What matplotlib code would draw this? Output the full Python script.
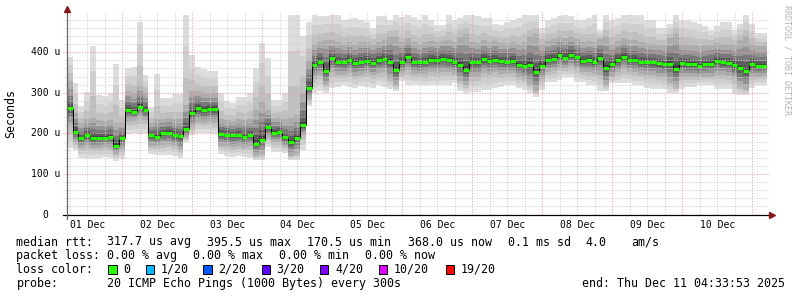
import numpy as np
import matplotlib
matplotlib.use("Agg")
from matplotlib import pyplot as plt
from matplotlib.patches import Rectangle

W, H = 797, 297
MONO = "DejaVu Sans Mono"

# smokeping data, consolidated to 2 hour steps, values in microseconds
start_hour = 4.9  # first step, hours after 01 Dec 00:00
step_hours = 2.0

median = [262, 204, 188, 196, 188, 189, 189, 192, 170, 188,
          258, 253, 266, 258, 196, 192, 200, 202, 196, 193,
          210, 250, 262, 258, 260, 260, 198, 196, 196, 197,
          192, 197, 174, 184, 215, 202, 203, 190, 178, 188,
          221, 313, 368, 376, 354, 385, 377, 375, 381, 373,
          376, 379, 374, 380, 384, 376, 356, 376, 388, 376,
          375, 376, 381, 380, 384, 380, 376, 368, 357, 376,
          375, 383, 378, 382, 378, 377, 378, 368, 365, 368,
          350, 367, 381, 384, 392, 386, 394, 387, 379, 381,
          376, 386, 361, 370, 380, 389, 381, 382, 377, 376,
          375, 373, 370, 372, 359, 373, 371, 370, 366, 370,
          372, 378, 375, 374, 368, 360, 353, 370, 366, 367]

ping_max = [389, 323, 268, 303, 416, 295, 292, 300, 371, 282,
            362, 364, 475, 344, 266, 346, 286, 286, 296, 296,
            492, 393, 364, 358, 354, 354, 300, 280, 275, 290,
            290, 300, 361, 422, 385, 282, 282, 300, 492, 492,
            440, 475, 492, 490, 490, 492, 492, 480, 482, 485,
            480, 475, 460, 490, 488, 480, 492, 486, 492, 486,
            480, 492, 480, 468, 468, 492, 480, 485, 492, 492,
            490, 485, 485, 470, 468, 475, 480, 485, 492, 492,
            492, 460, 480, 485, 490, 492, 490, 480, 480, 485,
            492, 455, 492, 480, 485, 492, 492, 492, 492, 480,
            480, 460, 460, 470, 492, 480, 480, 475, 470, 465,
            455, 465, 475, 475, 455, 470, 492, 470, 447, 447]

ping_min = [164, 158, 140, 138, 138, 140, 142, 140, 132, 138,
            198, 200, 198, 200, 150, 148, 146, 148, 145, 140,
            180, 195, 200, 202, 200, 198, 150, 145, 143, 145,
            143, 140, 134, 134, 167, 155, 155, 152, 134, 134,
            160, 267, 300, 305, 300, 312, 315, 318, 315, 312,
            316, 314, 312, 318, 315, 310, 305, 330, 320, 318,
            319, 318, 318, 318, 318, 320, 325, 305, 300, 303,
            303, 307, 307, 312, 315, 318, 320, 312, 307, 300,
            290, 307, 327, 327, 332, 340, 338, 327, 327, 320,
            319, 305, 305, 323, 323, 323, 323, 319, 319, 312,
            310, 310, 310, 300, 300, 310, 315, 315, 319, 319,
            319, 310, 310, 310, 298, 295, 295, 313, 319, 319]

core_lo = [215, 178, 165, 168, 163, 165, 166, 165, 150, 162,
           228, 230, 235, 232, 170, 168, 172, 174, 168, 160,
           190, 215, 228, 226, 228, 225, 170, 168, 166, 168,
           165, 168, 145, 150, 190, 178, 178, 168, 145, 150,
           195, 285, 335, 345, 320, 350, 345, 345, 348, 342,
           345, 348, 343, 348, 350, 335, 320, 348, 355, 347,
           346, 346, 350, 348, 352, 350, 347, 330, 318, 340,
           340, 348, 345, 350, 347, 347, 348, 340, 335, 320,
           305, 335, 352, 356, 362, 360, 365, 358, 350, 350,
           347, 345, 320, 342, 350, 358, 352, 350, 347, 345,
           343, 340, 338, 325, 315, 340, 340, 340, 338, 340,
           340, 345, 343, 342, 333, 315, 310, 338, 340, 342]

core_hi = [330, 250, 225, 235, 240, 232, 230, 232, 225, 225,
           305, 300, 320, 300, 225, 235, 235, 238, 235, 235,
           270, 305, 305, 300, 300, 300, 235, 232, 230, 235,
           232, 235, 260, 280, 260, 238, 240, 235, 240, 245,
           300, 380, 420, 425, 430, 430, 425, 420, 425, 420,
           425, 425, 420, 425, 430, 440, 440, 425, 435, 425,
           420, 425, 428, 425, 428, 430, 425, 440, 445, 425,
           422, 430, 425, 428, 422, 422, 425, 420, 425, 440,
           445, 420, 428, 432, 440, 435, 440, 432, 425, 428,
           425, 432, 440, 420, 428, 435, 430, 430, 425, 422,
           420, 418, 418, 435, 445, 420, 418, 418, 415, 418,
           418, 422, 420, 420, 418, 430, 440, 420, 415, 415]

day_labels = ["01 Dec", "02 Dec", "03 Dec", "04 Dec", "05 Dec",
              "06 Dec", "07 Dec", "08 Dec", "09 Dec", "10 Dec"]
ytick_values = [0, 100, 200, 300, 400]
ytick_labels = ["0", "100 u", "200 u", "300 u", "400 u"]

stats_rtt = ["317.7 us avg", "395.5 us max", "170.5 us min", "368.0 us now",
             "0.1 ms sd", "4.0", "am/s"]
stats_loss = ["0.00 % avg", "0.00 % max", "0.00 % min", "0.00 % now"]
loss_labels = ["0", "1/20", "2/20", "3/20", "4/20", "10/20", "19/20"]
loss_colors = ["#26ff00", "#00b8ff", "#0059ff", "#5e00ff", "#7e00ff", "#dd00ff", "#ff0000"]
probe_text = "20 ICMP Echo Pings (1000 Bytes) every 300s"
end_text = "end: Thu Dec 11 04:33:53 2025"


def fx(px):
    return px / W


def fy(py):
    return 1 - py / H


fig = plt.figure(figsize=(W / 100, H / 100), dpi=100)
fig.patch.set_facecolor("white")
ax_left, ax_right, ax_bottom, ax_top = 66.7, 766.5, 214.6, 11.6
ax = fig.add_axes([fx(ax_left), fy(ax_bottom), (ax_right - ax_left) / W, (ax_bottom - ax_top) / H])
ax.set_axis_off()

n = len(median)
edges = start_hour + step_hours * np.arange(n + 1)
med = np.array(median, float)
lo = np.array(ping_min, float)
hi = np.array(ping_max, float)
clo = np.array(core_lo, float)
chi = np.array(core_hi, float)

# smoke: outer envelope, then darker shades closing in on the median
ax.stairs(hi, edges, baseline=lo, fill=True, color="#dddddd", lw=0, zorder=1)
for frac, col in [(0.35, "#cfcfcf"), (0.7, "#bfbfbf")]:
    ax.stairs(hi + (chi - hi) * frac, edges, baseline=lo + (clo - lo) * frac,
              fill=True, color=col, lw=0, zorder=1)
ax.stairs(chi, edges, baseline=clo, fill=True, color="#acacac", lw=0, zorder=1)
for frac, col in [(0.3, "#939393"), (0.55, "#787878"), (0.75, "#5c5c5c"), (0.9, "#3e3e3e")]:
    ax.stairs(chi + (med - chi) * frac, edges, baseline=clo + (med - clo) * frac,
              fill=True, color=col, lw=0, zorder=1)

xmin, xmax = start_hour, start_hour + step_hours * n
ax.set_xlim(xmin, xmax)
ax.set_ylim(0, 500)

# grid
dots = (0, (1, 1.4))
for h in range(6, int(xmax) + 1, 6):
    if h < xmin:
        continue
    col = "#eaa0a0" if h % 24 == 0 else "#cfcfcf"
    ax.axvline(h, color=col, lw=0.8, ls=dots, zorder=3)
ytr = ax.get_yaxis_transform()
for v in range(20, 500, 20):
    col = "#eaa0a0" if v % 100 == 0 else "#cfcfcf"
    ax.plot([-0.006, 1.002], [v, v], transform=ytr, color=col, lw=0.8, ls=dots,
            zorder=3, clip_on=False)

# median line
ax.stairs(med, edges, baseline=None, color="black", lw=0.7, zorder=4)
ax.hlines(med, edges[:-1], edges[1:], colors=loss_colors[0], lw=2.3, zorder=5)

# axes with arrows
ax.plot([-0.006, 1.004], [0, 0], transform=ytr, color="black", lw=0.9,
        clip_on=False, zorder=6)
ax.plot([1.008], [0], transform=ytr, marker=">", ms=4.5, color="#8b1a1a",
        clip_on=False, zorder=6)
ax.plot([0, 0], [-0.02, 1.0], transform=ax.transAxes, color="#666666", lw=0.9,
        clip_on=False, zorder=6)
ax.plot([0], [1.012], transform=ax.transAxes, marker="^", ms=4.5, color="#8b1a1a",
        clip_on=False, zorder=6)

# tick labels
for v, lab in zip(ytick_values, ytick_labels):
    right_px = 60.3 if v else 48.3
    ax.text((right_px - ax_left) / (ax_right - ax_left), v, lab, transform=ytr,
            ha="right", va="center", fontsize=7, family=MONO)
xtr = ax.get_xaxis_transform()
for i, lab in enumerate(day_labels):
    ax.text(12 + 24 * i, (ax_bottom - 224.5) / (ax_bottom - ax_top), lab, transform=xtr,
            ha="center", va="center", fontsize=7, family=MONO)

fig.text(fx(10.5), fy(114), "Seconds", rotation=90, ha="center", va="center",
         fontsize=8.4, family=MONO)
fig.text(fx(787), fy(60), "RRDTOOL / TOBI OETIKER", rotation=270, ha="center",
         va="center", fontsize=6, color="#b4b4b4", family=MONO)

# legend block
txt = dict(fontsize=8.4, family=MONO, va="baseline", ha="left")
rows = [245.5, 259.2, 273.0, 286.8]
fig.text(fx(16.5), fy(rows[0]), "median rtt:", **txt)
for x, s in zip([107.3, 207.3, 307.3, 407.5, 508.0, 585.5, 631.5], stats_rtt):
    fig.text(fx(x), fy(rows[0]), s, **txt)
fig.text(fx(16.5), fy(rows[1]), "packet loss:", **txt)
for x, s in zip([107.3, 193.3, 279.3, 365.3], stats_loss):
    fig.text(fx(x), fy(rows[1]), s, **txt)
fig.text(fx(16.5), fy(rows[2]), "loss color:", **txt)
for x, s, c in zip([108.3, 145.7, 203.3, 261.7, 320.0, 379.0, 446.0], loss_labels, loss_colors):
    fig.add_artist(Rectangle((fx(x), fy(273.7)), 8.4 / W, 8.4 / H, transform=fig.transFigure,
                             facecolor=c, edgecolor="black", lw=0.7))
    fig.text(fx(x + 15), fy(rows[2]), s, **txt)
fig.text(fx(16.5), fy(rows[3]), "probe:", **txt)
fig.text(fx(107.3), fy(rows[3]), probe_text, **txt)
fig.text(fx(784.5), fy(rows[3]), end_text, **dict(txt, ha="right"))

fig.savefig("out.png", dpi=100, facecolor="white")
